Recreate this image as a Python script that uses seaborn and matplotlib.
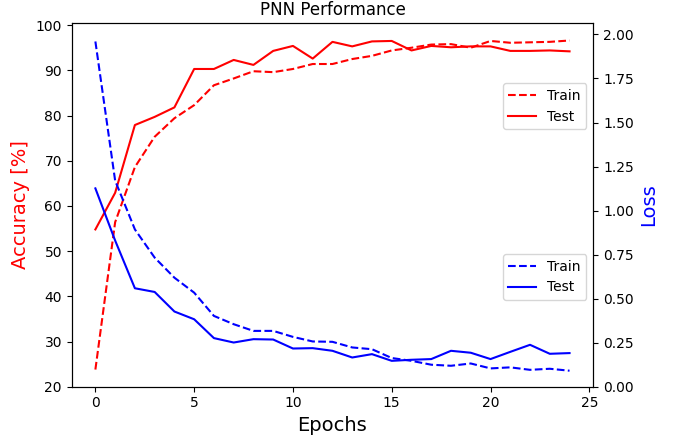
import numpy as np
import pandas as pd
import matplotlib
matplotlib.use("Agg")
import matplotlib.pyplot as plt
import seaborn as sns

# values
epochs = list(range(25))
train_acc = [23.8, 56.4, 68.6, 75.3, 79.4, 82.3, 86.7, 88.2, 89.8, 89.6,
             90.3, 91.4, 91.4, 92.5, 93.2, 94.4, 95.0, 95.7, 95.8, 95.0,
             96.5, 96.1, 96.2, 96.3, 96.6]
test_acc = [54.8, 62.9, 77.9, 79.7, 81.8, 90.3, 90.3, 92.3, 91.2, 94.3,
            95.4, 92.6, 96.3, 95.3, 96.4, 96.5, 94.4, 95.4, 95.1, 95.3,
            95.3, 94.3, 94.3, 94.4, 94.2]
train_loss = [1.96, 1.17, 0.893, 0.733, 0.619, 0.534, 0.402, 0.355, 0.317, 0.317,
              0.283, 0.257, 0.255, 0.223, 0.213, 0.163, 0.147, 0.125, 0.119, 0.132,
              0.104, 0.110, 0.096, 0.102, 0.091]
test_loss = [1.126, 0.83, 0.559, 0.538, 0.427, 0.383, 0.276, 0.251, 0.270, 0.268,
             0.217, 0.219, 0.204, 0.166, 0.185, 0.147, 0.153, 0.157, 0.204, 0.193,
             0.157, 0.198, 0.238, 0.187, 0.191]

df = pd.DataFrame({"epoch": epochs, "train_acc": train_acc, "test_acc": test_acc,
                   "train_loss": train_loss, "test_loss": test_loss})

fig = plt.figure(figsize=(6.73, 4.36), dpi=100)
ax1 = fig.add_axes([0.1065, 0.113, 0.775, 0.8335])
ax2 = ax1.twinx()

# accuracy on the left axis
sns.lineplot(data=df, x="epoch", y="train_acc", ax=ax1, color="red",
             linestyle="--", label="Train")
sns.lineplot(data=df, x="epoch", y="test_acc", ax=ax1, color="red",
             linestyle="-", label="Test")

# loss on the right axis
sns.lineplot(data=df, x="epoch", y="train_loss", ax=ax2, color="blue",
             linestyle="--", label="Train")
sns.lineplot(data=df, x="epoch", y="test_loss", ax=ax2, color="blue",
             linestyle="-", label="Test")

ax1.set_ylim(20, 100.4)
ax2.set_ylim(0, 2.063)
ax1.set_xticks([0, 5, 10, 15, 20, 25])
ax2.set_yticks([0, 0.25, 0.5, 0.75, 1.0, 1.25, 1.5, 1.75, 2.0])
ax2.set_yticklabels([f"{v:.2f}" for v in ax2.get_yticks()])

ax1.set_xlabel("Epochs", fontsize=14)
ax1.set_ylabel("Accuracy [%]", color="red", fontsize=14)
ax2.set_ylabel("Loss", color="blue", fontsize=14)
ax1.set_title("PNN Performance")

ax1.legend(loc="center right", bbox_to_anchor=(1, 0.772), fontsize=10)
ax2.legend(loc="center right", bbox_to_anchor=(1, 0.302), fontsize=10)

fig.savefig("out.png", dpi=100)
